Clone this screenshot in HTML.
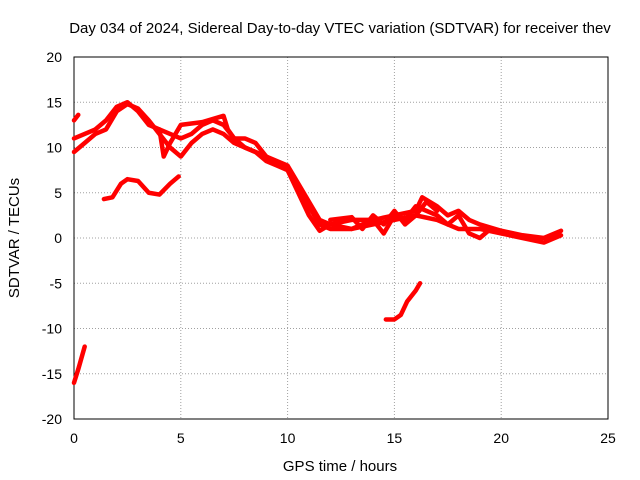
<!DOCTYPE html>
<html><head><meta charset="utf-8"><style>
body{margin:0;background:#fff}
svg{display:block;font-family:"Liberation Sans",sans-serif}
</style></head><body>
<svg id="chart" width="640" height="480" viewBox="0 0 640 480"></svg>
<script>
const xTicks=[0,5,10,15,20,25];
const yTicks=[-20,-15,-10,-5,0,5,10,15,20];
const band1=[[0,9.5],[0.5,10.5],[1,11.5],[1.5,12],[2,14],[2.5,14.8],[3,14.3],[3.5,13],[4,11.5],[4.5,10],[5,9],[5.5,10.5],[6,11.5],[6.5,12],[7,11.5],[7.5,10.5],[8,10],[8.5,9.5],[9,8.5],[9.5,8],[10,7.5],[10.5,5.5],[11,3.5],[11.5,1.5],[12,1],[13,1],[14,1.5],[15,2],[16,2.5],[17,2],[18,1],[19,1],[20,0.5],[21,0],[22,-0.5],[22.8,0.3]];
const band2=[[0,11],[0.5,11.5],[1,12],[1.5,13],[2,14.5],[2.5,15],[3,14],[3.5,12.5],[4,12],[4.5,11.5],[5,11],[5.5,11.5],[6,12.5],[6.5,13],[7,12.5],[7.5,11],[8,11],[8.5,10.5],[9,9],[9.5,8.5],[10,8],[10.5,6],[11,4],[11.5,2],[12,1.5],[13,2],[14,2],[15,2.5],[16,3],[16.3,4.5],[17,3.5],[17.5,2.5],[18,3],[18.5,2],[19,1.5],[20,0.8],[21,0.3],[22,0],[22.8,0.8]];
const band3=[[4,12],[4.2,9],[4.5,10.5],[5,12.5],[6,12.8],[7,13.5],[7.2,12],[7.5,11],[8,10],[9,9],[10,7.5],[10.5,5],[11,2.5],[11.5,0.8],[12,1.5],[13,1],[14,2],[14.5,0.5],[15,2.5],[15.5,2],[16,3.5],[17,2.5],[17.5,1.5],[18,2.5],[18.5,0.5],[19,0],[19.5,1],[20,0.5]];
const band4=[[1.4,4.3],[1.8,4.5],[2.2,6],[2.5,6.5],[3,6.3],[3.5,5],[4,4.8],[4.5,6],[4.9,6.8]];
const band5=[[0,-16],[0.2,-14.5],[0.5,-12]];
const band6=[[14.6,-9],[15,-9],[15.3,-8.5],[15.6,-7],[16,-5.8],[16.2,-5]];
const band7=[[0,13],[0.2,13.6]];
const band8=[[12,2],[13,2.3],[13.5,1],[14,2.5],[14.5,1.5],[15,3],[15.5,1.5],[16,2.5],[16.5,4],[17,3]];
const bands=[band1,band2,band3,band4,band5,band6,band7,band8];

const L=74,R=608,T=57,B=419;
const xs=v=>L+(v-0)/25*(R-L);
const ys=v=>B-(v+20)/40*(B-T);
const svg=document.getElementById('chart');
const NS='http://www.w3.org/2000/svg';
function mk(tag,attrs){const e=document.createElementNS(NS,tag);for(const k in attrs)e.setAttribute(k,attrs[k]);svg.appendChild(e);return e;}

xTicks.forEach(t=>{
  const g=mk('line',{x1:xs(t),x2:xs(t),y1:T,y2:B,stroke:'#a0a0a0','stroke-dasharray':'1,2','stroke-width':1});
  
  
  const tx=mk('text',{x:xs(t),y:B+24,'text-anchor':'middle','font-size':14,fill:'#000'});
  tx.textContent=t;
  
  
});
yTicks.forEach(t=>{
  const g=mk('line',{x1:L,x2:R,y1:ys(t),y2:ys(t),stroke:'#a0a0a0','stroke-dasharray':'1,2','stroke-width':1});
  
  
  const tx=mk('text',{x:L-12,y:ys(t)+5,'text-anchor':'end','font-size':14,fill:'#000'});
  tx.textContent=t;
  
  
});
const frame=mk('rect',{x:L,y:T,width:R-L,height:B-T,fill:'none',stroke:'#000','stroke-width':1});



bands.forEach(b=>{
  const p=mk('polyline',{points:b.map(d=>xs(d[0])+','+ys(d[1])).join(' '),fill:'none',stroke:'#ff0000','stroke-width':4.5,'stroke-linejoin':'round','stroke-linecap':'round'});
  
  
});

const title=mk('text',{x:340,y:33,'text-anchor':'middle','font-size':15,fill:'#000'});
title.textContent='Day 034 of 2024, Sidereal Day-to-day VTEC variation (SDTVAR) for receiver thev';


const xl=mk('text',{x:340,y:471,'text-anchor':'middle','font-size':15,fill:'#000'});
xl.textContent='GPS time / hours';


const yl=mk('text',{x:0,y:0,'text-anchor':'middle','font-size':15,fill:'#000',transform:'translate(19,238) rotate(-90)'});
yl.textContent='SDTVAR / TECUs';


</script>
</body></html>
